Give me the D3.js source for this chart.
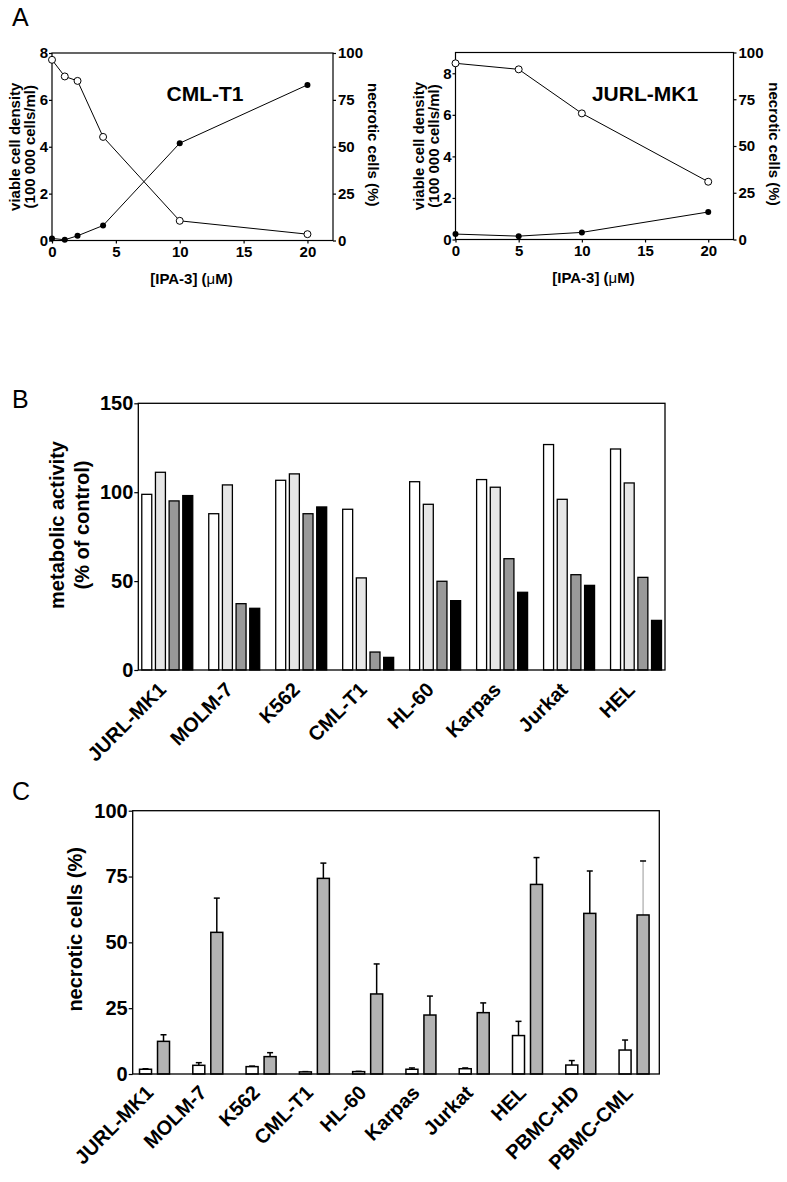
<!DOCTYPE html>
<html>
<head>
<meta charset="utf-8">
<script src="https://cdn.jsdelivr.net/npm/d3@7"></script>
<style>
  body { margin: 0; background: #fff; }
  svg { font-family: "Liberation Sans", Arial, sans-serif; }
</style>
</head>
<body>
<div id="chart"></div>
<script>
// ---- Panel A: dose response (IPA-3, µM)
const doseCml = [0, 1, 2, 4, 10, 20];
const viableCml = [7.71, 7.0, 6.81, 4.42, 0.84, 0.27];
const necroticCml = [1.1, 0.4, 2.5, 8.0, 51.9, 83.0];

const doseJurl = [0, 5, 10, 20];
const viableJurl = [8.48, 8.19, 6.07, 2.78];
const necroticJurl = [2.9, 1.8, 3.8, 14.7];

const ticksDose = [0, 5, 10, 15, 20];
const ticksViable = [0, 2, 4, 6, 8];
const ticksNecrotic = [0, 25, 50, 75, 100];

// ---- Panel B: metabolic activity (% of control), four concentrations
const cellLinesB = ["JURL-MK1", "MOLM-7", "K562", "CML-T1", "HL-60", "Karpas", "Jurkat", "HEL"];
const activity1 = [98.8, 87.9, 106.7, 90.4, 105.9, 107.1, 126.8, 124.3];
const activity2 = [111.2, 104.1, 110.3, 51.8, 93.2, 102.8, 96.0, 105.2];
const activity3 = [95.1, 37.3, 87.9, 10.1, 49.9, 62.6, 53.6, 52.1];
const activity4 = [98.1, 34.7, 91.7, 7.1, 39.0, 43.7, 47.6, 27.9];
const ticksActivity = [0, 50, 100, 150];
const fillsB = ["#ffffff", "#e6e6e6", "#999999", "#000000"];

// ---- Panel C: necrotic cells (%), control vs IPA-3
const cellLinesC = ["JURL-MK1", "MOLM-7", "K562", "CML-T1", "HL-60", "Karpas", "Jurkat", "HEL", "PBMC-HD", "PBMC-CML"];
const necroticCtrl = [1.8, 3.3, 2.8, 0.8, 0.9, 1.8, 2.0, 14.6, 3.4, 9.1];
const necroticCtrlSd = [0.2, 1.0, 0.2, 0.1, 0.1, 0.5, 0.3, 5.4, 1.7, 3.8];
const necroticIpa = [12.4, 53.8, 6.6, 74.3, 30.4, 22.4, 23.3, 72.0, 61.0, 60.4];
const necroticIpaSd = [2.5, 13.0, 1.5, 5.8, 11.4, 7.2, 3.7, 10.2, 16.1, 20.5];
const ticksNecroticC = [0, 25, 50, 75, 100];
const fillsC = ["#ffffff", "#b3b3b3"];

const svg = d3.select("#chart")
    .append("svg")
    .attr("width", 787)
    .attr("height", 1182);

function styleAxis(g, size) {
    g.attr("font-family", null)
        .attr("font-size", size)
        .attr("font-weight", "bold");
    g.select(".domain").remove();
    g.selectAll(".tick line").attr("stroke-width", 1.2);
}

function panelLetter(txt, x, y) {
    svg.append("text")
        .attr("x", x).attr("y", y)
        .attr("font-size", 25)
        .text(txt);
}

// slanted category labels, text ends at (px, py)
function slantLabels(names, xpos, py) {
    svg.append("g").selectAll("text").data(names).enter().append("text")
        .attr("transform", d => `translate(${xpos(d)},${py}) rotate(-45)`)
        .attr("text-anchor", "end").attr("font-size", 20).attr("font-weight", "bold")
        .text(d => d);
}

// Panel A: one small dual-axis plot
function drawDose(o) {
    const g = svg.append("g");
    const x = d3.scaleLinear().domain([0, 22]).range([o.x0, o.x1]);
    const yl = d3.scaleLinear().domain([0, o.ymax]).range([o.y1, o.y0]);
    const yr = d3.scaleLinear().domain([0, 100]).range([o.y1, o.y0]);

    g.append("g")
        .attr("transform", `translate(0,${o.y1})`)
        .call(d3.axisBottom(x).tickValues(ticksDose).tickSize(3).tickSizeOuter(0).tickPadding(3))
        .call(a => styleAxis(a, 15));
    g.append("g")
        .attr("transform", `translate(${o.x0},0)`)
        .call(d3.axisLeft(yl).tickValues(ticksViable).tickSize(3).tickSizeOuter(0).tickPadding(1))
        .call(a => styleAxis(a, 15));
    g.append("g")
        .attr("transform", `translate(${o.x1},0)`)
        .call(d3.axisRight(yr).tickValues(ticksNecrotic).tickSize(3).tickSizeOuter(0).tickPadding(2))
        .call(a => styleAxis(a, 15));

    g.append("rect")
        .attr("x", o.x0).attr("y", o.y0)
        .attr("width", o.x1 - o.x0).attr("height", o.y1 - o.y0)
        .attr("fill", "none").attr("stroke", "#000").attr("stroke-width", 1.2);

    const viable = o.dose.map((d, i) => [d, o.viable[i]]);
    const necrotic = o.dose.map((d, i) => [d, o.necrotic[i]]);

    g.append("path")
        .attr("d", d3.line().x(d => x(d[0])).y(d => yr(d[1]))(necrotic))
        .attr("fill", "none").attr("stroke", "#000").attr("stroke-width", 1);
    g.append("path")
        .attr("d", d3.line().x(d => x(d[0])).y(d => yl(d[1]))(viable))
        .attr("fill", "none").attr("stroke", "#000").attr("stroke-width", 1);

    g.selectAll(".nec").data(necrotic).enter().append("circle")
        .attr("cx", d => x(d[0])).attr("cy", d => yr(d[1]))
        .attr("r", 3).attr("fill", "#000");
    g.selectAll(".via").data(viable).enter().append("circle")
        .attr("cx", d => x(d[0])).attr("cy", d => yl(d[1]))
        .attr("r", 3.5).attr("fill", "#fff").attr("stroke", "#000").attr("stroke-width", 1);

    const midY = (o.y0 + o.y1) / 2;
    g.append("text")
        .attr("transform", `translate(${o.x0 - 32},${midY}) rotate(-90)`)
        .attr("text-anchor", "middle").attr("font-size", 15).attr("font-weight", "bold")
        .text("viable cell density");
    g.append("text")
        .attr("transform", `translate(${o.x0 - 17},${midY}) rotate(-90)`)
        .attr("text-anchor", "middle").attr("font-size", 15).attr("font-weight", "bold")
        .text("(100 000 cells/ml)");
    g.append("text")
        .attr("transform", `translate(${o.x1 + 35},${midY - 2}) rotate(90)`)
        .attr("text-anchor", "middle").attr("font-size", 15).attr("font-weight", "bold")
        .text("necrotic cells (%)");

    const xl = g.append("text")
        .attr("x", (o.x0 + o.x1) / 2 - 1).attr("y", o.y1 + 43)
        .attr("text-anchor", "middle").attr("font-size", 15).attr("font-weight", "bold");
    xl.append("tspan").text("[IPA-3] (");
    xl.append("tspan").attr("font-weight", "normal").text("\u03bc");
    xl.append("tspan").text("M)");

    g.append("text")
        .attr("x", o.titleX).attr("y", o.y0 + 48)
        .attr("text-anchor", "middle").attr("font-size", 21).attr("font-weight", "bold")
        .text(o.title);
}

panelLetter("A", 12, 26);
drawDose({ x0: 52, x1: 333, y0: 53, y1: 240.5, ymax: 8, dose: doseCml, viable: viableCml,
    necrotic: necroticCml, title: "CML-T1", titleX: 205 });
drawDose({ x0: 455.5, x1: 733.5, y0: 52.5, y1: 239.5, ymax: 9, dose: doseJurl, viable: viableJurl,
    necrotic: necroticJurl, title: "JURL-MK1", titleX: 645 });

// Panel B: grouped bars
(function () {
    const left = 138.3, right = 665, top = 403.3, bottom = 670;
    const series = [activity1, activity2, activity3, activity4];
    const x0 = d3.scaleBand().domain(cellLinesB).range([left, right]).paddingInner(0.239).paddingOuter(0.052);
    const x1 = d3.scaleBand().domain(d3.range(series.length)).range([0, x0.bandwidth()]).paddingInner(0.27);
    const y = d3.scaleLinear().domain([0, 150]).range([bottom, top]);

    panelLetter("B", 12, 408);

    svg.append("g")
        .attr("transform", `translate(${left},0)`)
        .call(d3.axisLeft(y).tickValues(ticksActivity).tickSize(4).tickSizeOuter(0).tickPadding(1))
        .call(a => styleAxis(a, 20));

    const groups = svg.selectAll(".grpB").data(cellLinesB).enter().append("g")
        .attr("transform", d => `translate(${x0(d)},0)`);
    groups.selectAll("rect")
        .data((d, i) => series.map((s, k) => ({ k, v: s[i] })))
        .enter().append("rect")
        .attr("x", d => x1(d.k))
        .attr("width", x1.bandwidth())
        .attr("y", d => y(d.v))
        .attr("height", d => bottom - y(d.v))
        .attr("fill", d => fillsB[d.k])
        .attr("stroke", "#000").attr("stroke-width", 1.3);

    svg.append("rect")
        .attr("x", left).attr("y", top).attr("width", right - left).attr("height", bottom - top)
        .attr("fill", "none").attr("stroke", "#000").attr("stroke-width", 1.3);

    slantLabels(cellLinesB, d => x0(d) + x0.bandwidth() / 2, bottom + 21);

    svg.append("text")
        .attr("transform", `translate(64,525) rotate(-90)`)
        .attr("text-anchor", "middle").attr("font-size", 20).attr("font-weight", "bold")
        .text("metabolic activity");
    svg.append("text")
        .attr("transform", `translate(89,525) rotate(-90)`)
        .attr("text-anchor", "middle").attr("font-size", 20).attr("font-weight", "bold")
        .text("(% of control)");
})();

// Panel C: bars with error bars
(function () {
    const left = 132.7, right = 659.3, top = 810.7, bottom = 1074;
    const means = [necroticCtrl, necroticIpa];
    const sds = [necroticCtrlSd, necroticIpaSd];
    const x0 = d3.scaleBand().domain(cellLinesC).range([left, right]).paddingInner(0.437).paddingOuter(0.16).align(0.4);
    const x1 = d3.scaleBand().domain([0, 1]).range([0, x0.bandwidth()]).paddingInner(0.333);
    const y = d3.scaleLinear().domain([0, 100]).range([bottom, top]);

    panelLetter("C", 12, 800);

    svg.append("g")
        .attr("transform", `translate(${left},0)`)
        .call(d3.axisLeft(y).tickValues(ticksNecroticC).tickSize(4).tickSizeOuter(0).tickPadding(1))
        .call(a => styleAxis(a, 20));

    const groups = svg.selectAll(".grpC").data(cellLinesC).enter().append("g")
        .attr("transform", d => `translate(${x0(d)},0)`);
    const items = groups.selectAll("g")
        .data((d, i) => means.map((s, k) => ({ name: d, k, v: s[i], sd: sds[k][i] })))
        .enter().append("g");

    // the PBMC-CML treated error bar is drawn thinner and grey in the original
    const faint = d => d.name === "PBMC-CML" && d.k === 1;
    items.append("line")
        .attr("x1", d => x1(d.k) + x1.bandwidth() / 2)
        .attr("x2", d => x1(d.k) + x1.bandwidth() / 2)
        .attr("y1", d => y(d.v))
        .attr("y2", d => y(d.v + d.sd))
        .attr("stroke", d => faint(d) ? "#999" : "#000")
        .attr("stroke-width", d => faint(d) ? 1 : 1.5);
    items.append("line")
        .attr("x1", d => x1(d.k) + x1.bandwidth() / 2 - 3)
        .attr("x2", d => x1(d.k) + x1.bandwidth() / 2 + 3)
        .attr("y1", d => y(d.v + d.sd))
        .attr("y2", d => y(d.v + d.sd))
        .attr("stroke", "#000").attr("stroke-width", 1.5);
    items.append("rect")
        .attr("x", d => x1(d.k))
        .attr("width", x1.bandwidth())
        .attr("y", d => y(d.v))
        .attr("height", d => bottom - y(d.v))
        .attr("fill", d => fillsC[d.k])
        .attr("stroke", "#000").attr("stroke-width", 1.5);

    svg.append("rect")
        .attr("x", left).attr("y", top).attr("width", right - left).attr("height", bottom - top)
        .attr("fill", "none").attr("stroke", "#000").attr("stroke-width", 1.3);

    slantLabels(cellLinesC, d => x0(d) + x0.bandwidth() / 2, bottom + 20);

    svg.append("text")
        .attr("transform", `translate(82,${(top + bottom) / 2 - 13}) rotate(-90)`)
        .attr("text-anchor", "middle").attr("font-size", 20).attr("font-weight", "bold")
        .text("necrotic cells (%)");
})();
</script>
</body>
</html>
